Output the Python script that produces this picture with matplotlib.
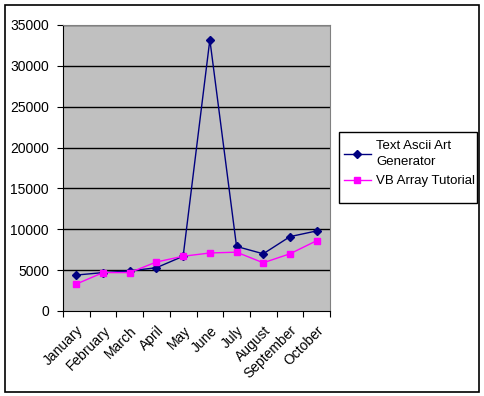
import numpy as np
import matplotlib
matplotlib.use("Agg")
import matplotlib.pyplot as plt
from matplotlib.patches import Rectangle
from matplotlib.transforms import ScaledTranslation

months = ["January", "February", "March", "April", "May", "June",
          "July", "August", "September", "October"]
ascii_art = [4400, 4700, 4900, 5300, 6700, 33200, 7900, 7000, 9100, 9800]
vb_array = [3300, 4700, 4700, 6000, 6700, 7100, 7200, 5900, 7000, 8600]
y_ticks = [0, 5000, 10000, 15000, 20000, 25000, 30000, 35000]

plt.rcParams["font.family"] = ["Liberation Sans", "DejaVu Sans"]
plt.rcParams["font.size"] = 10

W, H = 485, 396
fig = plt.figure(figsize=(W / 100, H / 100), dpi=100)
fig.patch.set_facecolor("white")

# outer chart border
fig.patches.append(Rectangle((5 / W, 4 / H), 474 / W, 387 / H, transform=fig.transFigure,
                             fill=False, edgecolor="black", linewidth=1.2))

# plot area in pixels
left, right, top, bottom = 63, 330, 25, 311
ax = fig.add_axes([left / W, (H - bottom) / H, (right - left) / W, (bottom - top) / H])
ax.set_facecolor("#C0C0C0")

x = np.arange(len(months))
ax.plot(x, ascii_art, color="#000080", marker="D", markersize=3.8, linewidth=1,
        label="Text Ascii Art\nGenerator")
ax.plot(x, vb_array, color="#FF00FF", marker="s", markersize=4, linewidth=1,
        label="VB Array Tutorial")

ax.set_xlim(-0.5, len(months) - 0.5)
ax.set_ylim(0, 35000)
ax.set_yticks(y_ticks)
ax.set_yticklabels([str(v) for v in y_ticks])
for v in y_ticks[1:]:
    ax.axhline(v, color="black", linewidth=1, zorder=1)

ax.set_xticks(np.arange(-0.5, len(months)), minor=False)
ax.set_xticklabels([])
ax.set_xticks(x, minor=True)
ax.set_xticklabels(months, minor=True, rotation=45, ha="right", va="top",
                   rotation_mode="anchor")
shift = ScaledTranslation(-6 / 100, -3 / 100, fig.dpi_scale_trans)
for lbl in ax.get_xticklabels(minor=True):
    lbl.set_transform(lbl.get_transform() + shift)
ax.tick_params(axis="x", which="minor", length=0, pad=9)
ax.tick_params(axis="x", which="major", length=4.5, direction="out", color="black")
ax.tick_params(axis="y", length=4, direction="out", pad=6, color="black")

for side in ["top", "right"]:
    ax.spines[side].set_color("#808080")
for side in ["left", "bottom"]:
    ax.spines[side].set_color("black")

# legend box drawn by hand, Excel style
fig.patches.append(Rectangle((339 / W, 1 - 203 / H), 138 / W, 71 / H, transform=fig.transFigure,
                             facecolor="white", edgecolor="black", linewidth=1, zorder=2))
leg = fig.legend(loc="upper left", bbox_to_anchor=(341 / W, 1 - 137 / H),
                 frameon=False, handlelength=2.1, handletextpad=0.35, borderpad=0.2,
                 labelspacing=0.55, borderaxespad=0, fontsize=9.5)
for t in leg.get_texts():
    t.set_linespacing(1.45)
leg.set_zorder(3)

fig.savefig("out.png", dpi=100)
